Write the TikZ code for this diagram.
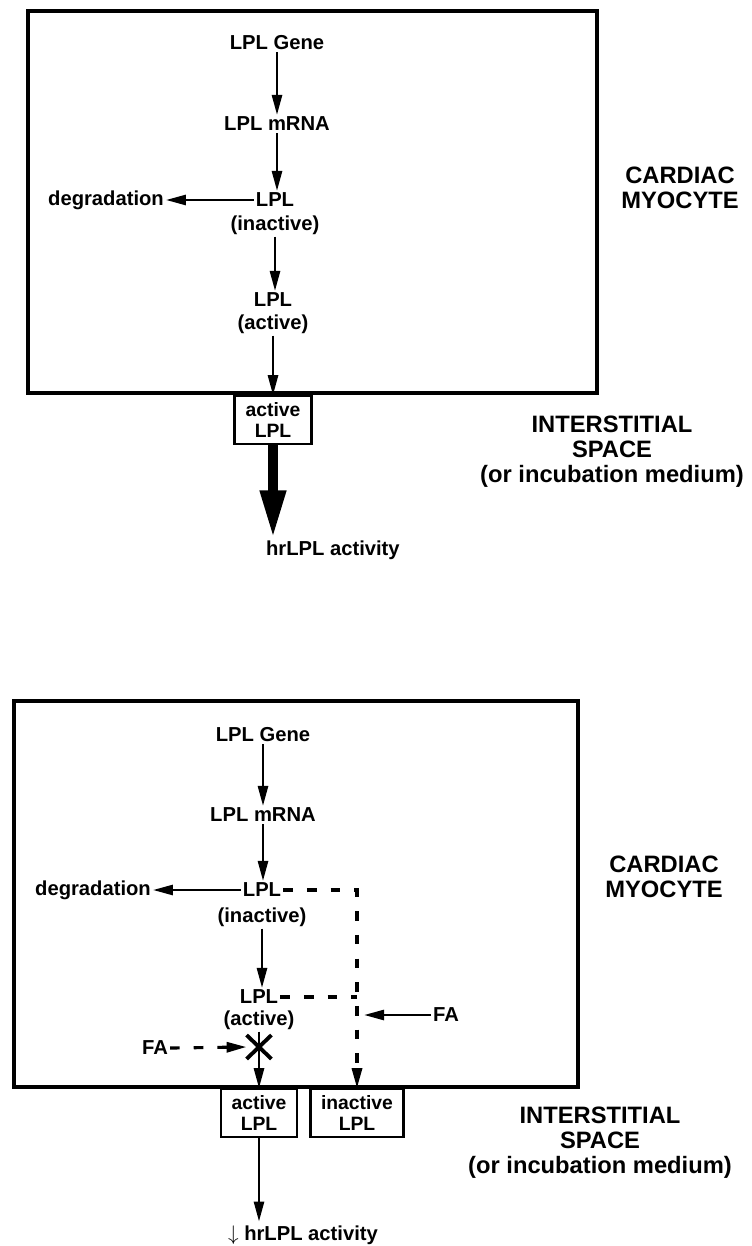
\documentclass[tikz,border=0pt]{standalone}
\usepackage{fontspec}
\setmainfont{Liberation Sans}
\usepackage{tikz}
\usetikzlibrary{arrows.meta, positioning, shapes.misc}

\begin{document}
\begin{tikzpicture}[
      x = 0.02cm, y = -0.02cm,
      cell/.style = {draw = black, line width = 1.8pt},
      lbl/.style  = {font = \bfseries\fontsize{11.5}{12.5}\selectfont, inner sep = 1pt},
      big/.style  = {font = \bfseries\fontsize{13.5}{14.3}\selectfont, align = center, inner sep = 0pt},
      pool/.style = {draw = black, line width = 1.2pt, align = center, inner sep = 0pt,
                     font = \bfseries\fontsize{11}{12.5}\selectfont, minimum height = 0.95cm},
      arr/.style  = {-{Triangle[length = 4mm, width = 2mm]}, line width = 1.5pt},
      fat/.style  = {-{Triangle[length = 9.6mm, width = 4.8mm]}, line width = 5.5pt},
      dsh/.style  = {line width = 1.8pt, dash pattern = on 5.5pt off 8pt},
      blk/.style  = {cross out, draw = black, line width = 2.2pt, minimum width = 0.42cm, minimum height = 0.4cm, inner sep = 0pt}
    ]
  \useasboundingbox (0,0) rectangle (751,1246);

  % ---------- top: normal secretion ------------------------------------
  \draw[cell] (28,11) rectangle (597,393);

  \node[lbl] (gene1) at (277,43)  {LPL Gene};
  \node[lbl] (mrna1) at (277,124) {LPL mRNA};
  \node[lbl] (lpl1)  at (275,200) {LPL};
  \node[lbl] (tag1)  at (275,225) {(inactive)};
  \node[lbl] (degr1) at (106,200) {degradation};
  \node[lbl] (lplA1) at (273,300) {LPL};
  \node[lbl] (tagA1) at (273,324) {(active)};
  \node[pool, minimum width = 1.54cm] (pool1) at (273,420) {active\\LPL};
  \node[lbl, anchor = west] (hr1) at (264,550) {hrLPL activity};

  \draw[arr] (gene1) -- (mrna1);
  \draw[arr] (mrna1.south) -- (mrna1.south |- lpl1.north);
  \draw[arr] (lpl1) -- (degr1);
  \draw[arr] (tag1.south) -- (tag1.south |- lplA1.north);
  \draw[arr] (tagA1) -- (pool1.north);
  \draw[fat] (pool1.south) -- (pool1.south |- hr1.north);

  \node[big] (myo1) at (680,188) {CARDIAC\\MYOCYTE};
  \node[big] (isp1) at (612,452) {INTERSTITIAL\\SPACE\\(or incubation medium)};

  % ---------- bottom: with fatty acids ---------------------------------
  \draw[cell] (14,701) rectangle (578,1087);

  \node[lbl] (gene2) at (263,735)  {LPL Gene};
  \node[lbl] (mrna2) at (263,815)  {LPL mRNA};
  \node[lbl] (lpl2)  at (262,890)  {LPL};
  \node[lbl] (tag2)  at (262,917)  {(inactive)};
  \node[lbl] (degr2) at (93,890)   {degradation};
  \node[lbl] (lplA2) at (259,997)  {LPL};
  \node[lbl] (tagA2) at (259,1020) {(active)};
  \node[blk] (stop)  at (259,1047) {};
  \node[lbl] (faL)   at (155,1048) {FA};
  \node[lbl] (faR)   at (446,1015) {FA};
  \node[pool, minimum width = 1.52cm] (pool2) at (259,1113) {active\\LPL};
  \node[pool, minimum width = 1.86cm] (pool3) at (357,1113) {inactive\\LPL};
  \node[lbl, anchor = west] (hr2) at (226,1235) {$\big\downarrow$\ hrLPL activity};
  \coordinate (bend) at (357,890);

  \draw[arr] (gene2) -- (mrna2);
  \draw[arr] (mrna2.south) -- (mrna2.south |- lpl2.north);
  \draw[arr] (lpl2) -- (degr2);
  \draw[arr] (tag2.south) -- (tag2.south |- lplA2.north);
  \draw[arr] (tagA2) -- (pool2.north);
  \draw[arr, shorten > = 1pt] (pool2.south) -- (pool2.south |- hr2.north);

  \draw[dsh, -{Triangle[length = 4mm, width = 2mm]}] (lpl2.east) -- (bend) -- (pool3.north);
  \draw[dsh] (lplA2.east) -- (lplA2.east -| bend);
  \draw[arr, shorten > = 4pt] (faR.west) -- (faR.west -| bend);
  \draw[dsh, -{Triangle[length = 4mm, width = 2mm]}] (faL.east) -- (stop.west);

  \node[big] (myo2) at (664,877)  {CARDIAC\\MYOCYTE};
  \node[big] (isp2) at (600,1143) {INTERSTITIAL\\SPACE\\(or incubation medium)};

\end{tikzpicture}
\end{document}
